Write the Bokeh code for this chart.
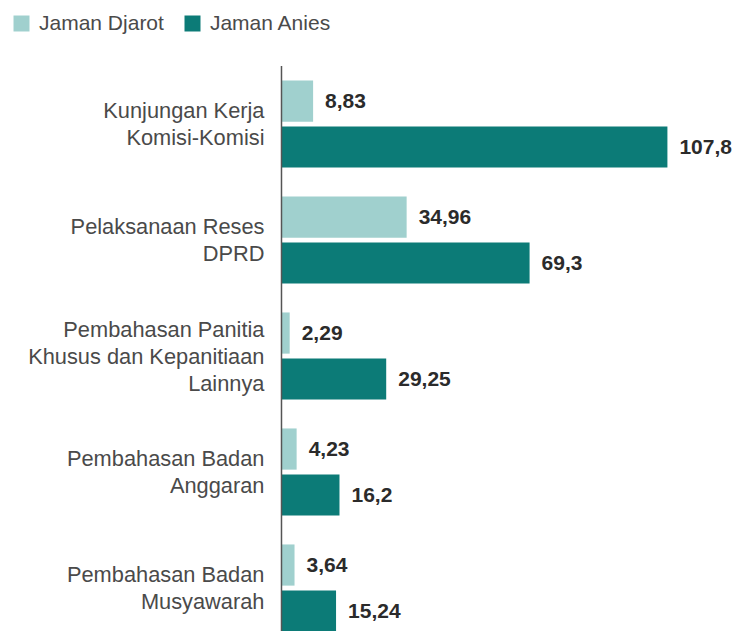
import numpy as np
from bokeh.plotting import figure
from bokeh.models import ColumnDataSource, Range1d, Legend, LegendItem
from bokeh.core.properties import value
from bokeh.embed import file_html
from bokeh.resources import INLINE

categories = [
    "Kunjungan Kerja\nKomisi-Komisi",
    "Pelaksanaan Reses\nDPRD",
    "Pembahasan Panitia\nKhusus dan Kepanitiaan\nLainnya",
    "Pembahasan Badan\nAnggaran",
    "Pembahasan Badan\nMusyawarah",
]
djarot = [8.83, 34.96, 2.29, 4.23, 3.64]
anies = [107.8, 69.3, 29.25, 16.2, 15.24]
djarot_labels = ["8,83", "34,96", "2,29", "4,23", "3,64"]
anies_labels = ["107,8", "69,3", "29,25", "16,2", "15,24"]
series_names = ["Jaman Djarot", "Jaman Anies"]

C_DJ = "#a0d0ce"
C_AN = "#0c7b77"
FONT = "Liberation Sans"

idx = np.arange(len(categories))
off = 0.198
h = 0.355

src_dj = ColumnDataSource(dict(y=idx - off, v=djarot, lab=djarot_labels))
src_an = ColumnDataSource(dict(y=idx + off, v=anies, lab=anies_labels))
src_cat = ColumnDataSource(dict(y=idx, x=np.zeros(len(idx)), t=categories))

p = figure(width=734, height=631, output_backend="svg", toolbar_location=None,
           x_range=Range1d(-78.49, 126.54), y_range=Range1d(4.375, -1.065),
           min_border=0, outline_line_color=None)
p.axis.visible = False
p.grid.visible = False
p.background_fill_color = "white"
p.border_fill_color = "white"

r_dj = p.hbar(y="y", right="v", left=0, height=h, source=src_dj,
              fill_color=C_DJ, line_color=None)
r_an = p.hbar(y="y", right="v", left=0, height=h, source=src_an,
              fill_color=C_AN, line_color=None)

# baseline axis line
p.segment(x0=[0], x1=[0], y0=[-0.5], y1=[len(categories)], line_color="#555555", line_width=1.5)

for s in (src_dj, src_an):
    p.text(x="v", y="y", text="lab", source=s, x_offset=12,
           text_align="left", text_baseline="middle",
           text_font=value(FONT), text_font_style="bold",
           text_font_size="21px", text_color="#2b2b2b")

p.text(x="x", y="y", text="t", source=src_cat, x_offset=-17,
       text_align="right", text_baseline="middle",
       text_font=value(FONT), text_font_size="21.8px",
       text_color="#4a4a4a", text_line_height=1.08)

legend = Legend(items=[LegendItem(label=series_names[0], renderers=[r_dj]),
                       LegendItem(label=series_names[1], renderers=[r_an])],
                location="top_left", orientation="horizontal",
                glyph_width=20, glyph_height=20, label_standoff=8, spacing=18,
                label_text_font=FONT, label_text_font_size="21px",
                label_text_color="#4a4a4a", border_line_color=None,
                background_fill_alpha=0, margin=11, padding=0)
p.add_layout(legend)

open("out.html", "w").write(file_html(p, INLINE))
